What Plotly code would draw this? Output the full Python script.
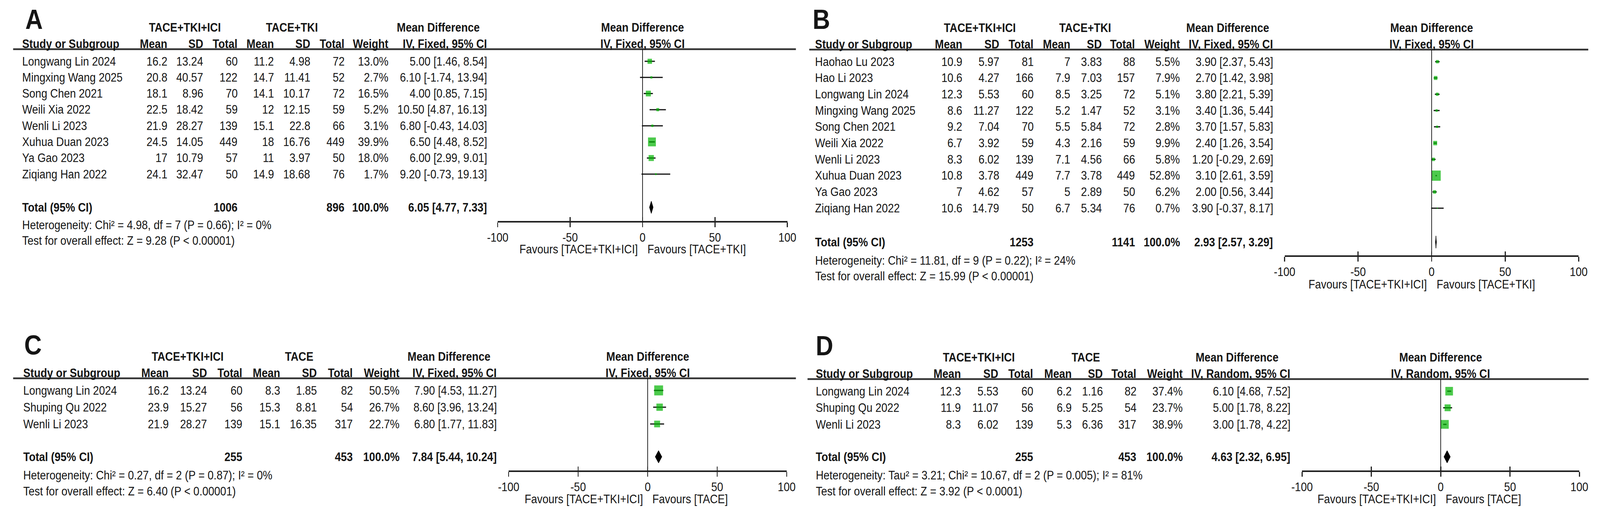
import math
import plotly.graph_objects as go

W, H = 4621, 1314
FONT = "Liberation Sans, Arial, Helvetica, sans-serif"
TXT = "#151515"
GREEN = "#00B400"
FS = 31

# ---------------- DATA ----------------
# Panel A
A_studies = ["Longwang Lin 2024", "Mingxing Wang 2025", "Song Chen 2021", "Weili Xia 2022",
             "Wenli Li 2023", "Xuhua Duan 2023", "Ya Gao 2023", "Ziqiang Han 2022"]
A_mean1 = [16.2, 20.8, 18.1, 22.5, 21.9, 24.5, 17, 24.1]
A_sd1 = [13.24, 40.57, 8.96, 18.42, 28.27, 14.05, 10.79, 32.47]
A_n1 = [60, 122, 70, 59, 139, 449, 57, 50]
A_mean2 = [11.2, 14.7, 14.1, 12, 15.1, 18, 11, 14.9]
A_sd2 = [4.98, 11.41, 10.17, 12.15, 22.8, 16.76, 3.97, 18.68]
A_n2 = [72, 52, 72, 59, 66, 449, 50, 76]
A_weight = [13.0, 2.7, 16.5, 5.2, 3.1, 39.9, 18.0, 1.7]
A_md = [5.00, 6.10, 4.00, 10.50, 6.80, 6.50, 6.00, 9.20]
A_lo = [1.46, -1.74, 0.85, 4.87, -0.43, 4.48, 2.99, -0.73]
A_hi = [8.54, 13.94, 7.15, 16.13, 14.03, 8.52, 9.01, 19.13]
A_total = {"n1": 1006, "n2": 896, "md": 6.05, "lo": 4.77, "hi": 7.33}
A_het = "Heterogeneity: Chi² = 4.98, df = 7 (P = 0.66); I² = 0%"
A_test = "Test for overall effect: Z = 9.28 (P < 0.00001)"

# Panel B
B_studies = ["Haohao Lu 2023", "Hao Li 2023", "Longwang Lin 2024", "Mingxing Wang 2025", "Song Chen 2021",
             "Weili Xia 2022", "Wenli Li 2023", "Xuhua Duan 2023", "Ya Gao 2023", "Ziqiang Han 2022"]
B_mean1 = [10.9, 10.6, 12.3, 8.6, 9.2, 6.7, 8.3, 10.8, 7, 10.6]
B_sd1 = [5.97, 4.27, 5.53, 11.27, 7.04, 3.92, 6.02, 3.78, 4.62, 14.79]
B_n1 = [81, 166, 60, 122, 70, 59, 139, 449, 57, 50]
B_mean2 = [7, 7.9, 8.5, 5.2, 5.5, 4.3, 7.1, 7.7, 5, 6.7]
B_sd2 = [3.83, 7.03, 3.25, 1.47, 5.84, 2.16, 4.56, 3.78, 2.89, 5.34]
B_n2 = [88, 157, 72, 52, 72, 59, 66, 449, 50, 76]
B_weight = [5.5, 7.9, 5.1, 3.1, 2.8, 9.9, 5.8, 52.8, 6.2, 0.7]
B_md = [3.90, 2.70, 3.80, 3.40, 3.70, 2.40, 1.20, 3.10, 2.00, 3.90]
B_lo = [2.37, 1.42, 2.21, 1.36, 1.57, 1.26, -0.29, 2.61, 0.56, -0.37]
B_hi = [5.43, 3.98, 5.39, 5.44, 5.83, 3.54, 2.69, 3.59, 3.44, 8.17]
B_total = {"n1": 1253, "n2": 1141, "md": 2.93, "lo": 2.57, "hi": 3.29}
B_het = "Heterogeneity: Chi² = 11.81, df = 9 (P = 0.22); I² = 24%"
B_test = "Test for overall effect: Z = 15.99 (P < 0.00001)"

# Panel C
C_studies = ["Longwang Lin 2024", "Shuping Qu 2022", "Wenli Li 2023"]
C_mean1 = [16.2, 23.9, 21.9]
C_sd1 = [13.24, 15.27, 28.27]
C_n1 = [60, 56, 139]
C_mean2 = [8.3, 15.3, 15.1]
C_sd2 = [1.85, 8.81, 16.35]
C_n2 = [82, 54, 317]
C_weight = [50.5, 26.7, 22.7]
C_md = [7.90, 8.60, 6.80]
C_lo = [4.53, 3.96, 1.77]
C_hi = [11.27, 13.24, 11.83]
C_total = {"n1": 255, "n2": 453, "md": 7.84, "lo": 5.44, "hi": 10.24}
C_het = "Heterogeneity: Chi² = 0.27, df = 2 (P = 0.87); I² = 0%"
C_test = "Test for overall effect: Z = 6.40 (P < 0.00001)"

# Panel D
D_studies = ["Longwang Lin 2024", "Shuping Qu 2022", "Wenli Li 2023"]
D_mean1 = [12.3, 11.9, 8.3]
D_sd1 = [5.53, 11.07, 6.02]
D_n1 = [60, 56, 139]
D_mean2 = [6.2, 6.9, 5.3]
D_sd2 = [1.16, 5.25, 6.36]
D_n2 = [82, 54, 317]
D_weight = [37.4, 23.7, 38.9]
D_md = [6.10, 5.00, 3.00]
D_lo = [4.68, 1.78, 1.78]
D_hi = [7.52, 8.22, 4.22]
D_total = {"n1": 255, "n2": 453, "md": 4.63, "lo": 2.32, "hi": 6.95}
D_het = "Heterogeneity: Tau² = 3.21; Chi² = 10.67, df = 2 (P = 0.005); I² = 81%"
D_test = "Test for overall effect: Z = 3.92 (P < 0.0001)"

tick_vals = [-100, -50, 0, 50, 100]
tick_text = ["-100", "-50", "0", "50", "100"]

panels = [
    dict(letter="A", g1="TACE+TKI+ICI", g2="TACE+TKI", method="IV, Fixed, 95% CI",
         fav1="Favours [TACE+TKI+ICI]", fav2="Favours [TACE+TKI]",
         studies=A_studies, mean1=A_mean1, sd1=A_sd1, n1=A_n1, mean2=A_mean2, sd2=A_sd2, n2=A_n2,
         weight=A_weight, md=A_md, lo=A_lo, hi=A_hi, total=A_total, het=A_het, test=A_test),
    dict(letter="B", g1="TACE+TKI+ICI", g2="TACE+TKI", method="IV, Fixed, 95% CI",
         fav1="Favours [TACE+TKI+ICI]", fav2="Favours [TACE+TKI]",
         studies=B_studies, mean1=B_mean1, sd1=B_sd1, n1=B_n1, mean2=B_mean2, sd2=B_sd2, n2=B_n2,
         weight=B_weight, md=B_md, lo=B_lo, hi=B_hi, total=B_total, het=B_het, test=B_test),
    dict(letter="C", g1="TACE+TKI+ICI", g2="TACE", method="IV, Fixed, 95% CI",
         fav1="Favours [TACE+TKI+ICI]", fav2="Favours [TACE]",
         studies=C_studies, mean1=C_mean1, sd1=C_sd1, n1=C_n1, mean2=C_mean2, sd2=C_sd2, n2=C_n2,
         weight=C_weight, md=C_md, lo=C_lo, hi=C_hi, total=C_total, het=C_het, test=C_test),
    dict(letter="D", g1="TACE+TKI+ICI", g2="TACE", method="IV, Random, 95% CI",
         fav1="Favours [TACE+TKI+ICI]", fav2="Favours [TACE]",
         studies=D_studies, mean1=D_mean1, sd1=D_sd1, n1=D_n1, mean2=D_mean2, sd2=D_sd2, n2=D_n2,
         weight=D_weight, md=D_md, lo=D_lo, hi=D_hi, total=D_total, het=D_het, test=D_test),
]

# ---------------- LAYOUT GEOMETRY (pixels) ----------------
geom = [
    dict(name=31, mean1=460, sd1=565, tot1=665, mean2=772, sd2=878, tot2=978, wt=1107, ci=1395,
         gc1=509, gc2=822, gc3=1250, axL=1424, axR=2271, lineL=7, lineR=2296,
         row0=157, sp=41.3, total=531, lx=40, ly=50, d_ax=37, d_het=45, d_test=85, d_fav=107),
    dict(name=2350, mean1=2784, sd1=2893, tot1=2993, mean2=3100, sd2=3192, tot2=3290, wt=3421, ci=3694,
         gc1=2834, gc2=3142, gc3=3558, axL=3725, axR=4585, lineL=2335, lineR=4613,
         row0=158, sp=41.7, total=620, lx=2343, ly=50, d_ax=36, d_het=47, d_test=87, d_fav=108),
    dict(name=34, mean1=464, sd1=576, tot1=679, mean2=790, sd2=897, tot2=1002, wt=1139, ci=1424,
         gc1=517, gc2=843, gc3=1281, axL=1456, axR=2269, lineL=7, lineR=2296,
         row0=1000, sp=43.0, total=1170, lx=37, ly=884, d_ax=37, d_het=47, d_test=88, d_fav=108),
    dict(name=2352, mean1=2780, sd1=2890, tot1=2992, mean2=3104, sd2=3195, tot2=3294, wt=3429, ci=3744,
         gc1=2831, gc2=3144, gc3=3586, axL=3776, axR=4587, lineL=2330, lineR=4614,
         row0=1002, sp=42.5, total=1170, lx=2352, ly=886, d_ax=37, d_het=47, d_test=88, d_fav=108),
]

fig = go.Figure()
annotations = []
shapes = []


def txt(x, y, s, anchor="left", bold=False, size=FS):
    annotations.append(dict(x=x / W, y=y, xref="paper", yref="y", text=(f"<b>{s}</b>" if bold else s),
                            showarrow=False, xanchor=anchor, yanchor="middle",
                            font=dict(size=size, family=FONT, color=TXT)))


def fmt(v):
    return f"{v:g}"


layout_axes = {}
for k, (p, g) in enumerate(zip(panels, geom)):
    xa = f"x{k + 1}" if k else "x"
    xa_name = f"xaxis{k + 1}" if k else "xaxis"
    xb = f"x{k + 5}"
    xb_name = f"xaxis{k + 5}"
    rows = [g["row0"] + i * g["sp"] for i in range(len(p["studies"]))]
    ty = g["total"]
    axis_y = ty + g["d_ax"]
    line_y = g["row0"] - 31
    grp_y = g["row0"] - 87
    col_y = g["row0"] - 45
    zero_px = (g["axL"] + g["axR"]) / 2

    txt(g["lx"], g["ly"], p["letter"], bold=True, size=70)
    txt(g["gc1"], grp_y, p["g1"], "center", bold=True)
    txt(g["gc2"], grp_y, p["g2"], "center", bold=True)
    txt(g["gc3"], grp_y, "Mean Difference", "center", bold=True)
    txt(zero_px, grp_y, "Mean Difference", "center", bold=True)
    txt(g["name"], col_y, "Study or Subgroup", "left", bold=True)
    for key, lab in [("mean1", "Mean"), ("sd1", "SD"), ("tot1", "Total"), ("mean2", "Mean"),
                     ("sd2", "SD"), ("tot2", "Total"), ("wt", "Weight"), ("ci", p["method"])]:
        txt(g[key], col_y, lab, "right", bold=True)
    txt(zero_px, col_y, p["method"], "center", bold=True)

    for i, y in enumerate(rows):
        txt(g["name"], y, p["studies"][i], "left")
        txt(g["mean1"], y, fmt(p["mean1"][i]), "right")
        txt(g["sd1"], y, fmt(p["sd1"][i]), "right")
        txt(g["tot1"], y, str(p["n1"][i]), "right")
        txt(g["mean2"], y, fmt(p["mean2"][i]), "right")
        txt(g["sd2"], y, fmt(p["sd2"][i]), "right")
        txt(g["tot2"], y, str(p["n2"][i]), "right")
        txt(g["wt"], y, f"{p['weight'][i]:.1f}%", "right")
        txt(g["ci"], y, f"{p['md'][i]:.2f} [{p['lo'][i]:.2f}, {p['hi'][i]:.2f}]", "right")

    t = p["total"]
    txt(g["name"], ty, "Total (95% CI)", "left", bold=True)
    txt(g["tot1"], ty, str(t["n1"]), "right", bold=True)
    txt(g["tot2"], ty, str(t["n2"]), "right", bold=True)
    txt(g["wt"], ty, "100.0%", "right", bold=True)
    txt(g["ci"], ty, f"{t['md']:.2f} [{t['lo']:.2f}, {t['hi']:.2f}]", "right", bold=True)
    txt(g["name"], ty + g["d_het"], p["het"], "left")
    txt(g["name"], ty + g["d_test"], p["test"], "left")
    txt(zero_px - 12, ty + g["d_fav"], p["fav1"], "right")
    txt(zero_px + 12, ty + g["d_fav"], p["fav2"], "left")

    shapes.append(dict(type="line", xref="paper", yref="y", x0=g["lineL"] / W, x1=g["lineR"] / W,
                       y0=line_y, y1=line_y, line=dict(color="#333333", width=4.5)))
    shapes.append(dict(type="line", xref=xa, yref="y", x0=0, x1=0, y0=line_y, y1=axis_y,
                       line=dict(color="#111111", width=2)))

    cx, cy = [], []
    for lo, hi, y in zip(p["lo"], p["hi"], rows):
        cx += [lo, hi, None]
        cy += [y, y, None]
    fig.add_trace(go.Scatter(x=cx, y=cy, mode="lines", xaxis=xa, yaxis="y",
                             line=dict(color="#111111", width=3), hoverinfo="skip", showlegend=False))
    sizes = [max(3.0, 3.6 * math.sqrt(w)) for w in p["weight"]]
    fig.add_trace(go.Scatter(x=p["md"], y=rows, mode="markers", xaxis=xa, yaxis="y",
                             marker=dict(symbol="square", size=sizes, color=GREEN, line=dict(width=0)),
                             hoverinfo="skip", showlegend=False, cliponaxis=False))
    dh = 16
    fig.add_trace(go.Scatter(x=[t["lo"], t["md"], t["hi"], t["md"], t["lo"]],
                             y=[ty, ty - dh, ty, ty + dh, ty], mode="lines", fill="toself",
                             fillcolor="#000000", line=dict(color="#000000", width=1),
                             xaxis=xa, yaxis="y", hoverinfo="skip", showlegend=False))
    fig.add_trace(go.Scatter(x=[0], y=[-500], mode="markers", xaxis=xb, yaxis="y",
                             marker=dict(opacity=0), hoverinfo="skip", showlegend=False))

    dom = [g["axL"] / W, g["axR"] / W]
    pos = 1 - axis_y / H
    layout_axes[xa_name] = dict(domain=dom, range=[-100, 100], anchor="free", position=pos,
                                showline=True, linecolor="#222222", linewidth=4,
                                ticks="outside", ticklen=12, tickwidth=3, tickcolor="#222222",
                                tickvals=tick_vals, ticktext=tick_text,
                                tickfont=dict(size=FS, family=FONT, color=TXT),
                                showgrid=False, zeroline=False, fixedrange=True)
    layout_axes[xb_name] = dict(domain=dom, range=[-100, 100], anchor="free", position=pos,
                                overlaying=xa, showline=False,
                                ticks="inside", ticklen=12, tickwidth=3, tickcolor="#222222",
                                tickvals=tick_vals, showticklabels=False,
                                showgrid=False, zeroline=False, fixedrange=True)

fig.update_layout(
    width=W, height=H,
    margin=dict(l=0, r=0, t=0, b=0),
    paper_bgcolor="white", plot_bgcolor="rgba(0,0,0,0)",
    yaxis=dict(domain=[0, 1], range=[H, 0], visible=False, fixedrange=True),
    annotations=annotations, shapes=shapes, showlegend=False,
    **layout_axes,
)

# keep the whole 4621x1314 figure inside the browser viewport
fit_js = """
(function(){
  var gd = document.getElementById('{plot_id}');
  function fit(){
    document.documentElement.style.overflow = 'hidden';
    document.body.style.margin = '0';
    document.body.style.overflow = 'hidden';
    var sx = window.innerWidth / %d, sy = window.innerHeight / %d;
    gd.style.transformOrigin = '0 0';
    gd.style.transform = 'scale(' + sx + ',' + sy + ')';
  }
  fit();
  window.addEventListener('resize', fit);
})();
""" % (W, H)

fig.write_html("out.html", config={"responsive": False, "displayModeBar": False}, post_script=fit_js)
